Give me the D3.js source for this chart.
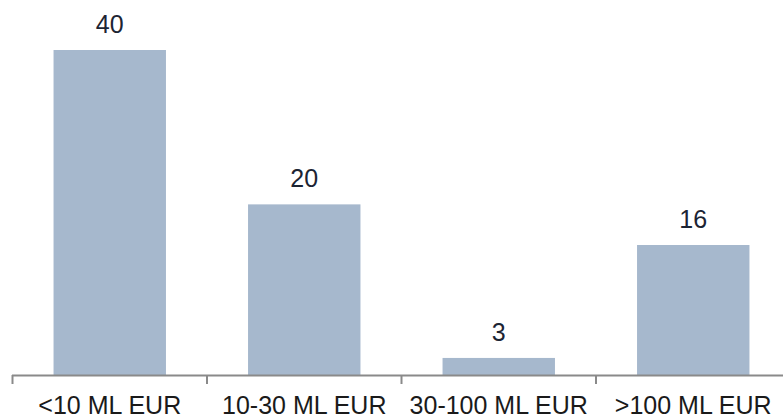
<!DOCTYPE html>
<html>
<head>
<meta charset="utf-8">
<script src="https://cdn.jsdelivr.net/npm/d3@7"></script>
<style>
  html, body { margin: 0; padding: 0; background: #ffffff; }
  svg { display: block; }
</style>
</head>
<body>
<svg id="chart" width="783" height="419"></svg>
<script>
const categories = ["<10 ML EUR", "10-30 ML EUR", "30-100 ML EUR", ">100 ML EUR"];
const values = [40, 21, 2.1, 16];
const valueLabels = ["40", "20", "3", "16"];

const W = 783, H = 419;
const svg = d3.select("#chart");

const x = d3.scaleBand()
  .domain(categories)
  .range([12.5, 790.5])
  .paddingInner(0.422)
  .paddingOuter(0.211);

const y = d3.scaleLinear()
  .domain([0, 40])
  .range([375, 50]);

const font = "'Liberation Sans', Arial, Helvetica, sans-serif";

// bars
svg.append("g").selectAll("rect")
  .data(categories)
  .join("rect")
  .attr("x", d => x(d))
  .attr("width", x.bandwidth())
  .attr("y", (d, i) => y(values[i]))
  .attr("height", (d, i) => y(0) - y(values[i]))
  .attr("fill", "#a6b8cd");

// axis line
const axisY = y(0);
svg.append("line")
  .attr("x1", x.range()[0] - 0.5)
  .attr("x2", W)
  .attr("y1", axisY + 0.5)
  .attr("y2", axisY + 0.5)
  .attr("stroke", "#8a8a8a")
  .attr("stroke-width", 2);

// ticks at band boundaries
const bounds = categories.map(c => x(c) - x.step() * x.paddingOuter());
bounds.push(x.range()[1]);
svg.append("g").selectAll("line")
  .data(bounds)
  .join("line")
  .attr("x1", d => d)
  .attr("x2", d => d)
  .attr("y1", axisY)
  .attr("y2", axisY + 9)
  .attr("stroke", "#8a8a8a")
  .attr("stroke-width", 2);

// category labels
svg.append("g").selectAll("text")
  .data(categories)
  .join("text")
  .attr("x", d => x(d) + x.bandwidth() / 2)
  .attr("y", 413.5)
  .attr("text-anchor", "middle")
  .attr("font-family", font)
  .attr("font-size", 25)
  .attr("fill", "#1a1a1a")
  .text(d => d);

// value labels
svg.append("g").selectAll("text")
  .data(categories)
  .join("text")
  .attr("x", d => x(d) + x.bandwidth() / 2)
  .attr("y", (d, i) => y(values[i]) - 17)
  .attr("text-anchor", "middle")
  .attr("font-family", font)
  .attr("font-size", 25)
  .attr("fill", "#1c2433")
  .text((d, i) => valueLabels[i]);
</script>
</body>
</html>
